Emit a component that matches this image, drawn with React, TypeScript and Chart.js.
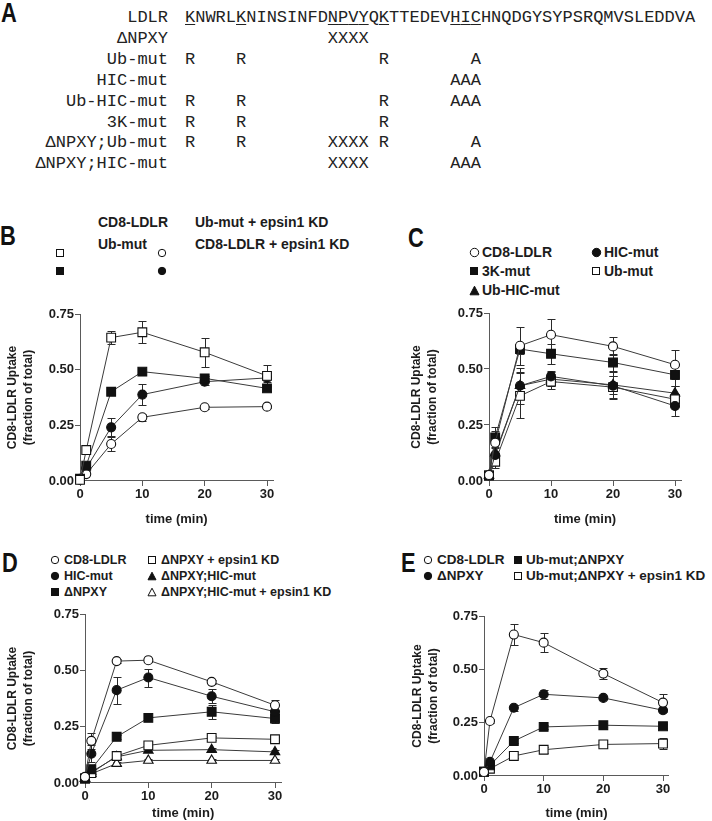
import React, { useEffect, useRef } from 'react';
import { Chart, registerables } from 'chart.js';

Chart.register(...registerables);

// ---------------- data ----------------
const timePoints = [0, 1, 5, 10, 20, 30];
const xTickValues = [0, 10, 20, 30];
const yTickValues = [0, 0.25, 0.5, 0.75];

// Panel B
const bCd8Ldlr = [0.005, 0.139, 0.644, 0.668, 0.578, 0.472];
const bCd8LdlrErr = [0, 0.01, 0.028, 0.05, 0.066, 0.05];
const bUbMut = [0.01, 0.069, 0.401, 0.491, 0.461, 0.416];
const bUbMutErr = [0, 0.005, 0.01, 0.01, 0.012, 0.01];
const bUbMutKd = [0.005, 0.031, 0.166, 0.286, 0.331, 0.334];
const bUbMutKdErr = [0, 0.005, 0.03, 0.016, 0.008, 0.006];
const bCd8LdlrKd = [0.01, 0.057, 0.241, 0.388, 0.446, 0.463];
const bCd8LdlrKdErr = [0, 0.01, 0.04, 0.046, 0.015, 0.02];

// Panel C
const cCd8Ldlr = [0.027, 0.171, 0.604, 0.653, 0.601, 0.519];
const cCd8LdlrErr = [0, 0.05, 0.085, 0.07, 0.04, 0.064];
const c3kMut = [0.025, 0.195, 0.589, 0.568, 0.529, 0.474];
const c3kMutErr = [0, 0.045, 0.02, 0.045, 0.04, 0.05];
const cHicMut = [0.025, 0.116, 0.425, 0.467, 0.425, 0.335];
const cHicMutErr = [0, 0.03, 0.08, 0.025, 0.06, 0.045];
const cUbMut = [0.025, 0.086, 0.38, 0.444, 0.419, 0.365];
const cUbMutErr = [0, 0.03, 0.1, 0.035, 0.05, 0.02];
const cUbHicMut = [0.025, 0.124, 0.425, 0.455, 0.429, 0.392];
const cUbHicMutErr = [0, 0.04, 0.06, 0.03, 0.04, 0.03];

// Panel D
const dCd8Ldlr = [0.027, 0.187, 0.541, 0.545, 0.449, 0.345];
const dCd8LdlrErr = [0, 0.035, 0.01, 0.01, 0.01, 0.025];
const dHicMut = [0.025, 0.13, 0.412, 0.468, 0.385, 0.316];
const dHicMutErr = [0, 0.037, 0.06, 0.04, 0.03, 0.01];
const dNpxy = [0.02, 0.061, 0.205, 0.289, 0.316, 0.286];
const dNpxyErr = [0, 0.01, 0.01, 0.01, 0.03, 0.02];
const dNpxyKd = [0.02, 0.044, 0.12, 0.167, 0.2, 0.194];
const dNpxyKdErr = [0, 0.005, 0.01, 0.015, 0.01, 0.01];
const dNpxyHic = [0.02, 0.049, 0.116, 0.145, 0.148, 0.138];
const dNpxyHicErr = [0, 0.005, 0.008, 0.008, 0.008, 0.008];
const dNpxyHicKd = [0.02, 0.041, 0.086, 0.1, 0.1, 0.1];
const dNpxyHicKdErr = [0, 0.005, 0.005, 0.005, 0.005, 0.005];

// Panel E
const eCd8Ldlr = [0.019, 0.258, 0.663, 0.625, 0.48, 0.344];
const eCd8LdlrErr = [0, 0.01, 0.05, 0.045, 0.027, 0.042];
const eNpxy = [0.02, 0.066, 0.32, 0.383, 0.366, 0.308];
const eNpxyErr = [0, 0.005, 0.015, 0.02, 0.005, 0.005];
const eUbNpxy = [0.02, 0.05, 0.164, 0.23, 0.238, 0.233];
const eUbNpxyErr = [0, 0.005, 0.008, 0.01, 0.01, 0.01];
const eUbNpxyKd = [0.02, 0.034, 0.094, 0.123, 0.148, 0.152];
const eUbNpxyKdErr = [0, 0.005, 0.01, 0.015, 0.01, 0.025];

// Panel A sequence
const ldlrSequence = 'KNWRLKNINSINFDNPVYQKTTEDEVHICHNQDGYSYPSRQMVSLEDDVA';
const underlinedPositions = [0, 5, 14, 15, 16, 17, 19, 26, 27, 28];
const mutantLabels = ['ΔNPXY', 'Ub-mut', 'HIC-mut', 'Ub-HIC-mut', '3K-mut', 'ΔNPXY;Ub-mut', 'ΔNPXY;HIC-mut'];
const mutantMarks: [number, string][][] = [
  [[14, 'XXXX']],
  [[0, 'R'], [5, 'R'], [19, 'R'], [28, 'A']],
  [[26, 'AAA']],
  [[0, 'R'], [5, 'R'], [19, 'R'], [26, 'AAA']],
  [[0, 'R'], [5, 'R'], [19, 'R']],
  [[0, 'R'], [5, 'R'], [14, 'XXXX'], [19, 'R'], [28, 'A']],
  [[14, 'XXXX'], [26, 'AAA']],
];

// ---------------- styles ----------------
const SANS = '"Liberation Sans", Arial, Helvetica, sans-serif';
const MONO = '"Liberation Mono", "Courier New", monospace';
const TEXT = '#1c1c1c';
const AXIS = '#5a5a5a';
const LINE = '#3a3a3a';

type Kind = 'openCircle' | 'filledCircle' | 'openSquare' | 'filledSquare' | 'filledTriangle' | 'openTriangle';

function markerOf(kind: Kind) {
  switch (kind) {
    case 'openCircle': return { style: 'circle', fill: '#ffffff', r: 4.5 };
    case 'filledCircle': return { style: 'circle', fill: '#111111', r: 4.5 };
    case 'openSquare': return { style: 'rect', fill: '#ffffff', r: 6.2 };
    case 'filledSquare': return { style: 'rect', fill: '#111111', r: 6.2 };
    case 'filledTriangle': return { style: 'triangle', fill: '#111111', r: 5.5 };
    default: return { style: 'triangle', fill: '#ffffff', r: 5.5 };
  }
}

function series(label: string, values: number[], errors: number[], kind: Kind) {
  const m = markerOf(kind);
  return {
    label,
    data: timePoints.map((t, i) => ({ x: t, y: values[i] })),
    errors,
    borderColor: LINE,
    borderWidth: 1,
    pointStyle: m.style,
    pointRadius: m.r,
    pointHoverRadius: m.r,
    pointBackgroundColor: m.fill,
    pointBorderColor: '#111111',
    pointBorderWidth: 1.1,
    fill: false,
    tension: 0,
    clip: false,
  };
}

const errorBarPlugin = {
  id: 'errorBars',
  beforeDatasetsDraw(chart: any) {
    const ctx = chart.ctx;
    const xs = chart.scales.x;
    const ys = chart.scales.y;
    ctx.save();
    ctx.strokeStyle = '#2a2a2a';
    ctx.lineWidth = 1;
    chart.data.datasets.forEach((ds: any) => {
      const errs: number[] = ds.errors;
      if (!errs) return;
      ds.data.forEach((p: any, i: number) => {
        const e = errs[i];
        if (!e) return;
        const px = Math.round(xs.getPixelForValue(p.x)) + 0.5;
        const yT = Math.round(ys.getPixelForValue(p.y + e)) + 0.5;
        const yB = Math.round(ys.getPixelForValue(p.y - e)) + 0.5;
        ctx.beginPath();
        ctx.moveTo(px, yT);
        ctx.lineTo(px, yB);
        ctx.moveTo(px - 4, yT);
        ctx.lineTo(px + 4, yT);
        ctx.moveTo(px - 4, yB);
        ctx.lineTo(px + 4, yB);
        ctx.stroke();
      });
    });
    ctx.restore();
  },
};

interface PanelCfg {
  cl: number; ct: number; cw: number; ch: number;
  L: number; T: number; R: number; B: number;
  xH: number;
  yTitlePad: number;
  datasets: any[];
}

function ChartPanel({ cfg }: { cfg: PanelCfg }) {
  const ref = useRef<HTMLCanvasElement | null>(null);
  useEffect(() => {
    if (!ref.current) return;
    const yW = cfg.L - cfg.cl;
    const padTop = cfg.T - cfg.ct;
    const padRight = cfg.cl + cfg.cw - cfg.R;
    const padBottom = cfg.ct + cfg.ch - (cfg.B + cfg.xH);
    const tickFont = { family: SANS, size: 13, weight: 'bold' as const };
    const gridOpts = {
      display: true,
      drawOnChartArea: false,
      drawTicks: true,
      tickLength: 5,
      tickColor: AXIS,
      tickWidth: 1,
      color: AXIS,
    };
    const chart = new Chart(ref.current, {
      type: 'line',
      data: { datasets: cfg.datasets },
      options: {
        responsive: false,
        animation: false,
        devicePixelRatio: 1,
        events: [],
        layout: { padding: { left: 0, top: padTop, right: padRight, bottom: padBottom } },
        plugins: { legend: { display: false }, tooltip: { enabled: false } },
        scales: {
          x: {
            type: 'linear',
            min: 0,
            max: 31,
            afterBuildTicks: (s: any) => { s.ticks = xTickValues.map((v) => ({ value: v })); },
            afterFit: (s: any) => { s.height = cfg.xH; },
            grid: gridOpts,
            border: { display: true, color: AXIS, width: 1 },
            ticks: {
              padding: 1,
              font: tickFont,
              color: TEXT,
              maxRotation: 0,
              autoSkip: false,
              callback: (v: any) => String(v),
            },
            title: {
              display: true,
              text: 'time (min)',
              color: TEXT,
              font: { family: SANS, size: 13, weight: 'bold', lineHeight: 1.2 },
              padding: { top: 0, bottom: 0 },
            },
          },
          y: {
            type: 'linear',
            min: 0,
            max: 0.75,
            afterBuildTicks: (s: any) => { s.ticks = yTickValues.map((v) => ({ value: v })); },
            afterFit: (s: any) => { s.width = yW; },
            grid: gridOpts,
            border: { display: true, color: AXIS, width: 1 },
            ticks: {
              padding: 1,
              font: tickFont,
              color: TEXT,
              autoSkip: false,
              callback: (v: any) => Number(v).toFixed(2),
            },
            title: {
              display: true,
              text: ['CD8-LDLR Uptake', '(fraction of total)'],
              color: TEXT,
              font: { family: SANS, size: 12, weight: 'bold', lineHeight: 16 / 12 },
              padding: { top: cfg.yTitlePad, bottom: 0 },
            },
          },
        },
      } as any,
      plugins: [errorBarPlugin],
    });
    return () => chart.destroy();
  }, []);
  return (
    <canvas
      ref={ref}
      width={cfg.cw}
      height={cfg.ch}
      style={{ position: 'absolute', left: cfg.cl, top: cfg.ct, width: cfg.cw, height: cfg.ch }}
    />
  );
}

// ---------------- panel configs ----------------
const xRight = (L: number, x30: number) => L + ((x30 - L) * 31) / 30;

const panelB: PanelCfg = {
  cl: 0, ct: 300, cw: 290, ch: 235,
  L: 80, T: 314, R: xRight(80, 267), B: 481,
  xH: 45.8, yTitlePad: 5,
  datasets: [
    series('CD8-LDLR', bCd8Ldlr, bCd8LdlrErr, 'openSquare'),
    series('Ub-mut', bUbMut, bUbMutErr, 'filledSquare'),
    series('Ub-mut + epsin1 KD', bUbMutKd, bUbMutKdErr, 'openCircle'),
    series('CD8-LDLR + epsin1 KD', bCd8LdlrKd, bCd8LdlrKdErr, 'filledCircle'),
  ],
};

const panelC: PanelCfg = {
  cl: 389, ct: 300, cw: 323, ch: 235,
  L: 489, T: 313, R: xRight(489, 675), B: 481,
  xH: 45.8, yTitlePad: 20,
  datasets: [
    series('CD8-LDLR', cCd8Ldlr, cCd8LdlrErr, 'openCircle'),
    series('3K-mut', c3kMut, c3kMutErr, 'filledSquare'),
    series('HIC-mut', cHicMut, cHicMutErr, 'filledCircle'),
    series('Ub-mut', cUbMut, cUbMutErr, 'openSquare'),
    series('Ub-HIC-mut', cUbHicMut, cUbHicMutErr, 'filledTriangle'),
  ],
};

const panelD: PanelCfg = {
  cl: 0, ct: 600, cw: 300, ch: 221,
  L: 85, T: 614, R: xRight(85, 275), B: 783,
  xH: 37.8, yTitlePad: 5,
  datasets: [
    series('CD8-LDLR', dCd8Ldlr, dCd8LdlrErr, 'openCircle'),
    series('HIC-mut', dHicMut, dHicMutErr, 'filledCircle'),
    series('ΔNPXY', dNpxy, dNpxyErr, 'filledSquare'),
    series('ΔNPXY + epsin1 KD', dNpxyKd, dNpxyKdErr, 'openSquare'),
    series('ΔNPXY;HIC-mut', dNpxyHic, dNpxyHicErr, 'filledTriangle'),
    series('ΔNPXY;HIC-mut + epsin1 KD', dNpxyHicKd, dNpxyHicKdErr, 'openTriangle'),
  ],
};

const panelE: PanelCfg = {
  cl: 389, ct: 600, cw: 323, ch: 221,
  L: 484, T: 616, R: xRight(484, 663), B: 776,
  xH: 44.8, yTitlePad: 21,
  datasets: [
    series('CD8-LDLR', eCd8Ldlr, eCd8LdlrErr, 'openCircle'),
    series('ΔNPXY', eNpxy, eNpxyErr, 'filledCircle'),
    series('Ub-mut;ΔNPXY', eUbNpxy, eUbNpxyErr, 'filledSquare'),
    series('Ub-mut;ΔNPXY + epsin1 KD', eUbNpxyKd, eUbNpxyKdErr, 'openSquare'),
  ],
};

// ---------------- html helpers ----------------
function Txt({ x, y, size, children, weight = 'bold' }: { x: number; y: number; size: number; children: any; weight?: string }) {
  const h = Math.round(size * 1.2);
  return (
    <div
      style={{
        position: 'absolute', left: x, top: y - h / 2, height: h, lineHeight: `${h}px`,
        fontFamily: SANS, fontSize: size, fontWeight: weight as any, color: TEXT, whiteSpace: 'nowrap',
      }}
    >
      {children}
    </div>
  );
}

function PanelLetter({ x, capTop, children }: { x: number; capTop: number; children: any }) {
  const size = 28;
  return (
    <div
      style={{
        position: 'absolute', left: x, top: capTop - 0.13 * size, height: size, lineHeight: `${size}px`,
        fontFamily: SANS, fontSize: size, fontWeight: 'bold', color: '#111', transform: 'scaleX(0.78)',
        transformOrigin: 'left top',
      }}
    >
      {children}
    </div>
  );
}

function Mk({ kind, x, y, s = 8 }: { kind: Kind; x: number; y: number; s?: number }) {
  const w = s + 2;
  const open = kind.startsWith('open');
  const fill = open ? '#fff' : '#111';
  let shape: any;
  if (kind.endsWith('Circle')) shape = <circle cx={w / 2} cy={w / 2} r={s / 2 - 0.3} fill={fill} stroke="#111" strokeWidth={1} />;
  else if (kind.endsWith('Square')) shape = <rect x={1.5} y={1.5} width={s - 1} height={s - 1} fill={fill} stroke="#111" strokeWidth={1} />;
  else shape = <polygon points={`${w / 2},1.2 ${w - 1},${w - 1.2} 1,${w - 1.2}`} fill={fill} stroke="#111" strokeWidth={1} />;
  return (
    <svg width={w} height={w} style={{ position: 'absolute', left: x - w / 2, top: y - w / 2 }}>
      {shape}
    </svg>
  );
}

function PanelA() {
  const rowH = 20.9;
  const top = 8;
  const under = new Set(underlinedPositions);
  const rowText = (marks: [number, string][]) => {
    const arr: string[] = [];
    marks.forEach(([p, t]) => {
      while (arr.length < p) arr.push(' ');
      for (const c of t) arr.push(c);
    });
    return arr.join('');
  };
  const base: any = {
    position: 'absolute', fontFamily: MONO, fontSize: 17, lineHeight: `${rowH}px`, color: '#222', whiteSpace: 'pre',
  };
  return (
    <>
      <div style={{ ...base, left: 0, top, width: 168, textAlign: 'right' }}>
        <div>LDLR</div>
        {mutantLabels.map((l) => <div key={l}>{l}</div>)}
      </div>
      <div style={{ ...base, left: 185, top }}>
        <div>
          {ldlrSequence.split('').map((c, i) => (
            <span key={i} style={under.has(i) ? { textDecoration: 'underline', textUnderlineOffset: 2 } : undefined}>{c}</span>
          ))}
        </div>
        {mutantMarks.map((m, i) => <div key={i}>{rowText(m) || ' '}</div>)}
      </div>
    </>
  );
}

export default function App() {
  return (
    <div style={{ position: 'absolute', left: 0, top: 0, width: 712, height: 821, background: '#fff', overflow: 'hidden' }}>
      <PanelLetter x={1} capTop={3}>A</PanelLetter>
      <PanelA />

      {/* Panel B legend */}
      <PanelLetter x={0} capTop={226}>B</PanelLetter>
      <Txt x={98} y={222} size={14}>CD8-LDLR</Txt>
      <Txt x={98} y={244} size={14}>Ub-mut</Txt>
      <Txt x={195} y={222} size={14}>Ub-mut + epsin1 KD</Txt>
      <Txt x={195} y={244} size={14}>CD8-LDLR + epsin1 KD</Txt>
      <Mk kind="openSquare" x={60} y={253} />
      <Mk kind="filledSquare" x={60} y={271} />
      <Mk kind="openCircle" x={162} y={253} />
      <Mk kind="filledCircle" x={162} y={271} />

      {/* Panel C legend */}
      <PanelLetter x={408} capTop={228}>C</PanelLetter>
      <Mk kind="openCircle" x={474} y={252} s={9} />
      <Txt x={482} y={252} size={14}>CD8-LDLR</Txt>
      <Mk kind="filledSquare" x={474} y={271} s={8} />
      <Txt x={482} y={271} size={14}>3K-mut</Txt>
      <Mk kind="filledTriangle" x={474} y={290} s={9} />
      <Txt x={482} y={290} size={14}>Ub-HIC-mut</Txt>
      <Mk kind="filledCircle" x={596} y={252} s={9} />
      <Txt x={604} y={252} size={14}>HIC-mut</Txt>
      <Mk kind="openSquare" x={596} y={271} s={8} />
      <Txt x={604} y={271} size={14}>Ub-mut</Txt>

      {/* Panel D legend */}
      <PanelLetter x={2} capTop={553}>D</PanelLetter>
      <Mk kind="openCircle" x={55} y={560} />
      <Txt x={64} y={560} size={12.5}>CD8-LDLR</Txt>
      <Mk kind="filledCircle" x={55} y={576} />
      <Txt x={64} y={576} size={12.5}>HIC-mut</Txt>
      <Mk kind="filledSquare" x={55} y={592} />
      <Txt x={64} y={592} size={12.5}>ΔNPXY</Txt>
      <Mk kind="openSquare" x={152} y={560} />
      <Txt x={161} y={560} size={12.5}>ΔNPXY + epsin1 KD</Txt>
      <Mk kind="filledTriangle" x={152} y={576} />
      <Txt x={161} y={576} size={12.5}>ΔNPXY;HIC-mut</Txt>
      <Mk kind="openTriangle" x={152} y={592} />
      <Txt x={161} y={592} size={12.5}>ΔNPXY;HIC-mut + epsin1 KD</Txt>

      {/* Panel E legend */}
      <PanelLetter x={401} capTop={553}>E</PanelLetter>
      <Mk kind="openCircle" x={428} y={560} />
      <Txt x={437} y={560} size={13.5}>CD8-LDLR</Txt>
      <Mk kind="filledCircle" x={428} y={576} />
      <Txt x={437} y={576} size={13.5}>ΔNPXY</Txt>
      <Mk kind="filledSquare" x={518} y={560} />
      <Txt x={526} y={560} size={13.5}>Ub-mut;ΔNPXY</Txt>
      <Mk kind="openSquare" x={518} y={576} />
      <Txt x={526} y={576} size={13.5}>Ub-mut;ΔNPXY + epsin1 KD</Txt>

      <ChartPanel cfg={panelB} />
      <ChartPanel cfg={panelC} />
      <ChartPanel cfg={panelD} />
      <ChartPanel cfg={panelE} />
    </div>
  );
}
